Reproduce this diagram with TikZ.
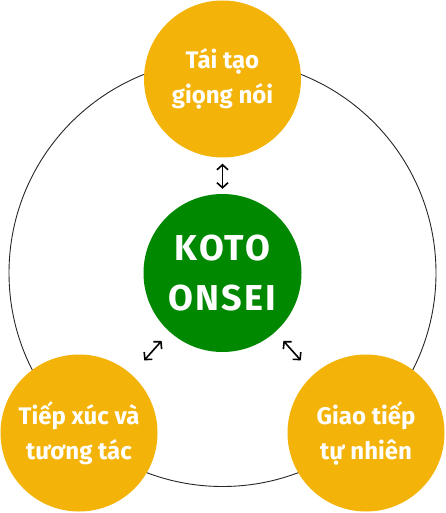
\documentclass[tikz,border=0pt]{standalone}
\usepackage{fontspec}
\setmainfont{Fira Sans}
\usetikzlibrary{arrows.meta}
\definecolor{topicorange}{RGB}{244,179,8}
\definecolor{coregreen}{RGB}{0,136,0}
\begin{document}
\begin{tikzpicture}[x=1pt,y=-1pt,
  topic/.style={circle,fill=topicorange,minimum size=157pt,inner sep=0pt,
    text=white,align=center,font=\bfseries\fontsize{24}{35}\selectfont},
  core/.style={circle,fill=coregreen,minimum size=158pt,inner sep=0pt,
    text=white,align=center,
    font=\bfseries\fontsize{36}{50}\selectfont\addfontfeature{LetterSpace=6}},
  link/.style={{Straight Barb[length=5pt,width=11pt]}-{Straight Barb[length=5pt,width=11pt]},
    line width=1.6pt}]
\useasboundingbox (0,0) rectangle (445,513);

% the ring
\draw [line width=0.9pt,black!85] (222.5,273) circle (213.5pt);

% the centre
\node [core] (core) at (222.5,273) {KOTO\\ONSEI};

% the three topics
\node [topic] (voice) at (222.5,79)  {Tái tạo\\giọng nói};
\node [topic] (touch) at (79,433)    {Tiếp xúc và\\tương tác};
\node [topic] (talk)  at (366,433)   {Giao tiếp\\tự nhiên};

% the arrows
\draw [link,shorten <=6pt,shorten >=5pt]   (voice) -- (core);
\draw [link,shorten <=12pt,shorten >=19pt] (core) -- (touch);
\draw [link,shorten <=12pt,shorten >=19pt] (core) -- (talk);
\end{tikzpicture}
\end{document}
